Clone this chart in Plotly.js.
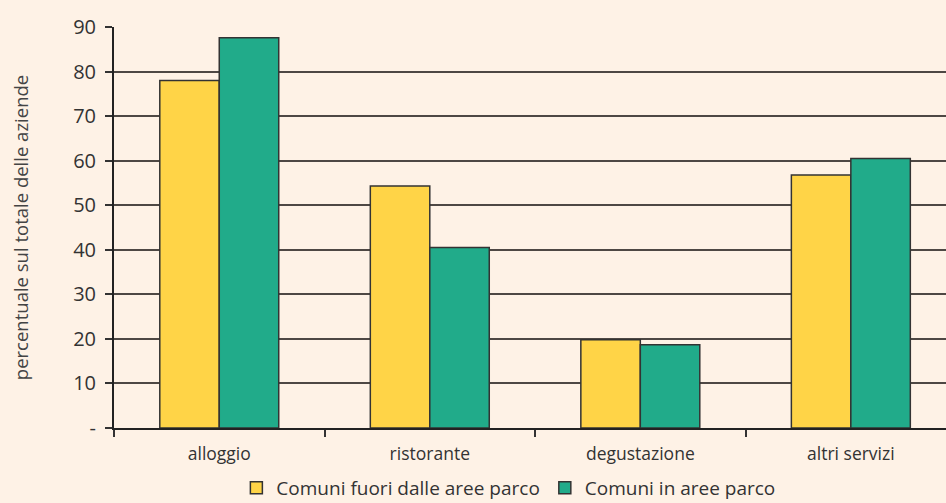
<!DOCTYPE html>
<html><head><meta charset="utf-8">
<script src="https://cdn.plot.ly/plotly-3.0.1.min.js"></script>
<style>body{margin:0;background:#fef2e6;}</style>
</head><body>
<div id="chart" style="width:946px;height:503px;"></div>
<script>
const categories = ["alloggio", "ristorante", "degustazione", "altri servizi"];
const fuoriParco = [78, 54.3, 19.8, 56.8];
const inParco = [87.6, 40.5, 18.7, 60.5];
const yTickVals = [0, 10, 20, 30, 40, 50, 60, 70, 80, 90];
const yTickText = ["-", "10", "20", "30", "40", "50", "60", "70", "80", "90"];

const font = "'Open Sans', Lato, sans-serif";
const traces = [
  {type: "bar", name: "Comuni fuori dalle aree parco", x: categories, y: fuoriParco,
   marker: {color: "#ffd447", line: {color: "#333333", width: 1.5}}},
  {type: "bar", name: "Comuni in aree parco", x: categories, y: inParco,
   marker: {color: "#21ab8a", line: {color: "#333333", width: 1.5}}}
];
const layout = {
  width: 946, height: 503,
  paper_bgcolor: "#fef2e6", plot_bgcolor: "#fef2e6",
  margin: {l: 114, r: 0, t: 27, b: 75},
  barmode: "group", bargap: 0.435, bargroupgap: 0,
  font: {family: font, color: "#333333"},
  xaxis: {range: [-0.5, 3.452], tickson: "boundaries", ticks: "outside", ticklen: 7,
          tickcolor: "#333", tickwidth: 1.5, showline: true, linecolor: "#222", linewidth: 2,
          tickfont: {size: 17.5, color: "#333"}, showgrid: false, automargin: false,
          ticklabelstandoff: 9},
  yaxis: {range: [0, 90], tickvals: yTickVals, ticktext: yTickText, ticks: "outside", ticklen: 7,
          tickcolor: "#333", tickwidth: 1.5, showline: true, linecolor: "#222", linewidth: 2,
          showgrid: true, gridcolor: "#4e4844", gridwidth: 1.5, zeroline: false,
          tickfont: {size: 20, color: "#333"}, automargin: false, ticklabelstandoff: 5,
          title: {text: "percentuale sul totale delle aziende", font: {size: 18.5, color: "#444"}, standoff: 40}},
  legend: {orientation: "h", x: 0.474, xanchor: "center", xref: "paper",
           y: 0.03, yanchor: "middle", yref: "container",
           font: {size: 19, color: "#333"}, bgcolor: "rgba(0,0,0,0)", traceorder: "normal"},
  showlegend: true
};
Plotly.newPlot("chart", traces, layout, {displayModeBar: false});
</script>
</body></html>
